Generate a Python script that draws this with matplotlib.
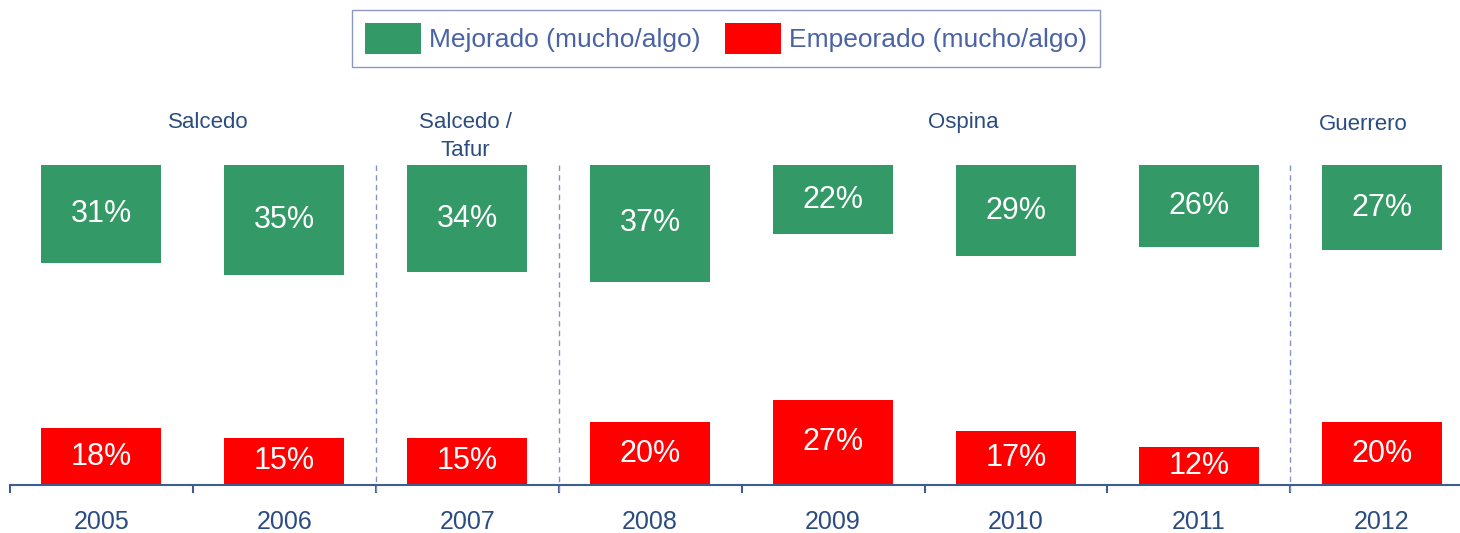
import matplotlib
matplotlib.use("Agg")
import matplotlib.pyplot as plt
from matplotlib.patches import Patch

years = ["2005", "2006", "2007", "2008", "2009", "2010", "2011", "2012"]
mejorado = [31, 35, 34, 37, 22, 29, 26, 27]
empeorado = [18, 15, 15, 20, 27, 17, 12, 20]
mayors = ["Salcedo", "Salcedo /\nTafur", "Ospina", "Guerrero"]
mayor_x = [0.585, 1.99, 4.71, 6.90]
dividers = [1.5, 2.5, 6.5]

GREEN = "#339966"
RED = "#FF0000"
TXT = "#2B4C80"
LEG_TXT = "#4A62A6"
DASH = "#8095C5"
SPINE = "#3E5C8E"

plt.rcParams['font.family'] = ['Liberation Sans', 'DejaVu Sans']

fig = plt.figure(figsize=(14.6, 5.33), dpi=100)
W, H = 1460, 533
ax_left, ax_right_px = 10, 1460
ax_bot_px, ax_top_px = 485, 90
ax = fig.add_axes([ax_left / W, (H - ax_bot_px) / H,
                   (ax_right_px - ax_left) / W, (ax_bot_px - ax_top_px) / H])
px_per_unit = 3.15
spacing = 182.9
ax.set_xlim(-0.5, -0.5 + (ax_right_px - ax_left) / spacing)
ax.set_ylim(0, (ax_bot_px - ax_top_px) / px_per_unit)
top_val = (ax_bot_px - 165) / px_per_unit

xs = list(range(len(years)))
bw = 120 / spacing
green_bottoms = [top_val - v for v in mejorado]
ax.bar(xs, mejorado, bottom=green_bottoms, width=bw, color=GREEN)
ax.bar(xs, empeorado, width=bw, color=RED)

for x, v, b in zip(xs, mejorado, green_bottoms):
    ax.text(x, b + v / 2, f"{v}%", ha="center", va="center", color="white", fontsize=22)
for x, v in zip(xs, empeorado):
    ax.text(x, v / 2, f"{v}%", ha="center", va="center", color="white", fontsize=22)

mayor_ypx = [122, 112, 122, 124]
for x, name, ypx in zip(mayor_x, mayors, mayor_ypx):
    yy = (ax_bot_px - ypx) / px_per_unit
    ax.text(x, yy, name, ha="center", va="top" if "\n" in name else "center",
            color=TXT, fontsize=16, linespacing=1.45)

for d in dividers:
    ax.plot([d, d], [top_val, -10 / px_per_unit], ls=(0, (4, 3)), color=DASH,
            lw=1.0, clip_on=False)

for s in ["top", "right", "left"]:
    ax.spines[s].set_visible(False)
ax.spines["bottom"].set_color(SPINE)
ax.spines["bottom"].set_linewidth(1.5)
ax.set_yticks([])
ax.set_xticks([i - 0.5 for i in range(len(years))])
ax.set_xticklabels([])
ax.tick_params(axis="x", direction="out", length=6, width=1.5, color=SPINE)
for x, y in zip(xs, years):
    ax.text(x, -(522 - ax_bot_px) / px_per_unit, y, ha="center", va="center",
            color=TXT, fontsize=18, clip_on=False)

handles = [Patch(facecolor=GREEN, label="Mejorado (mucho/algo)"),
           Patch(facecolor=RED, label="Empeorado (mucho/algo)")]
leg = fig.legend(handles=handles, loc="center", bbox_to_anchor=(726 / W, 1 - 38.5 / H),
                 ncol=2, fontsize=19, frameon=True, fancybox=False,
                 handlelength=2.1, handleheight=1.42, handletextpad=0.3,
                 columnspacing=0.95, borderpad=0.5)
leg.get_frame().set_edgecolor("#7080B8")
leg.get_frame().set_linewidth(1.0)
for t in leg.get_texts():
    t.set_color(LEG_TXT)

fig.savefig("out.png", dpi=100)
